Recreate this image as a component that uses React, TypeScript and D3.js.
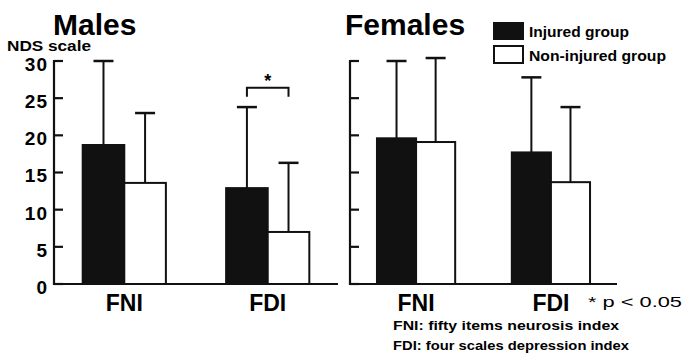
import React from "react";
import * as d3 from "d3";

const categories = ["FNI", "FDI"];
const groups = ["Injured group", "Non-injured group"];
const panels = ["Males", "Females"];
const maleInjuredMean = [18.7, 12.9];
const maleInjuredSD = [11.3, 10.9];
const maleNonInjuredMean = [13.6, 7.0];
const maleNonInjuredSD = [9.4, 9.3];
const femaleInjuredMean = [19.6, 17.7];
const femaleInjuredSD = [10.4, 10.1];
const femaleNonInjuredMean = [19.1, 13.7];
const femaleNonInjuredSD = [11.3, 10.1];
const yTicks = [0, 5, 10, 15, 20, 25, 30];
const yLabel = "NDS scale";
const notes = ["FNI: fifty items neurosis index", "FDI: four scales depression index"];
const sigNote = "* p < 0.05";

const FONT = "'Liberation Sans', Arial, sans-serif";

export default function App() {
  const W = 684, H = 356;
  const y = d3.scaleLinear().domain([0, 30]).range([284, 61]);
  const panelRanges: [number, number][] = [[54, 338], [350, 617]];
  const panelData = [
    { means: [maleInjuredMean, maleNonInjuredMean], sds: [maleInjuredSD, maleNonInjuredSD] },
    { means: [femaleInjuredMean, femaleNonInjuredMean], sds: [femaleInjuredSD, femaleNonInjuredSD] },
  ];
  const titleX = [53, 345];

  return (
    <svg width={W} height={H} style={{ position: "absolute", left: 0, top: 0, background: "#fff" }} fontFamily={FONT}>
      <rect width={W} height={H} fill="#fff" />
      {panels.map((p, pi) => {
        const [r0, r1] = panelRanges[pi];
        const x0 = d3.scaleBand<string>().domain(categories).range([r0, r1]).paddingInner(0.42).paddingOuter(0.2);
        const x1 = d3.scaleBand<string>().domain(groups).range([0, x0.bandwidth()]);
        const d = panelData[pi];
        const errX = (ci: number, gi: number) => (x0(categories[ci]) as number) + (x1(groups[gi]) as number) + x1.bandwidth() / 2;
        return (
          <g key={p}>
            <text x={titleX[pi]} y={35} fontSize={30} fontWeight="bold">{p}</text>
            {categories.map((c, ci) =>
              groups.map((g, gi) => {
                const bx = (x0(c) as number) + (x1(g) as number);
                const m = d.means[gi][ci];
                return (
                  <rect key={c + g} x={bx} y={y(m)} width={x1.bandwidth()} height={y(0) - y(m)}
                    fill={gi === 0 ? "#111" : "#fff"} stroke="#111" strokeWidth={2} />
                );
              })
            )}
            {categories.map((c, ci) =>
              groups.map((g, gi) => {
                const ex = errX(ci, gi);
                const m = d.means[gi][ci];
                const top = y(m + d.sds[gi][ci]);
                return (
                  <g key={"e" + c + g} stroke="#111">
                    <line x1={ex} x2={ex} y1={y(m)} y2={top} strokeWidth={2} />
                    <line x1={ex - 10} x2={ex + 10} y1={top} y2={top} strokeWidth={2.5} />
                  </g>
                );
              })
            )}
            <line x1={r0} x2={r0} y1={y(30) - 1} y2={y(0) + 1} stroke="#111" strokeWidth={2.2} />
            <line x1={r0} x2={r1} y1={y(0)} y2={y(0)} stroke="#111" strokeWidth={2.2} />
            {yTicks.map((t) => (
              <g key={t}>
                <line x1={r0} x2={r0 + 9} y1={y(t)} y2={y(t)} stroke="#111" strokeWidth={2.2} />
                {pi === 0 && (
                  <text x={48} y={y(t) + 3} dy="0.36em" textAnchor="end" fontSize={19} fontWeight="bold" letterSpacing={1}>{t}</text>
                )}
              </g>
            ))}
            {categories.map((c) => (
              <text key={"l" + c} x={(x0(c) as number) + x0.bandwidth() / 2} y={311} textAnchor="middle" fontSize={23} fontWeight="bold">{c}</text>
            ))}
            {pi === 0 && (() => {
              const a = errX(1, 0), b = errX(1, 1);
              const by = y(26.4);
              return (
                <g>
                  <path d={`M${a},${by + 9}V${by}H${b}V${by + 9}`} fill="none" stroke="#111" strokeWidth={2} />
                  <text x={(a + b) / 2} y={by - 1} textAnchor="middle" fontSize={18} fontWeight="bold">*</text>
                </g>
              );
            })()}
          </g>
        );
      })}
      <text x={7} y={51} fontSize={14.5} fontWeight="bold" textLength={84} lengthAdjust="spacingAndGlyphs">{yLabel}</text>
      {groups.map((g, gi) => (
        <g key={"lg" + g}>
          <rect x={494} y={gi === 0 ? 23 : 46} width={29} height={gi === 0 ? 16 : 17}
            fill={gi === 0 ? "#111" : "#fff"} stroke="#111" strokeWidth={2} />
          <text x={529} y={gi === 0 ? 37 : 61} fontSize={14} fontWeight="bold"
            textLength={gi === 0 ? 100 : 137} lengthAdjust="spacingAndGlyphs">{g}</text>
        </g>
      ))}
      <text x={588} y={307} fontSize={15} textLength={94} lengthAdjust="spacingAndGlyphs">{sigNote}</text>
      {notes.map((n, i) => (
        <text key={n} x={393} y={330 + i * 20} fontSize={12.5} fontWeight="bold"
          textLength={i === 0 ? 226 : 236} lengthAdjust="spacingAndGlyphs">{n}</text>
      ))}
    </svg>
  );
}
